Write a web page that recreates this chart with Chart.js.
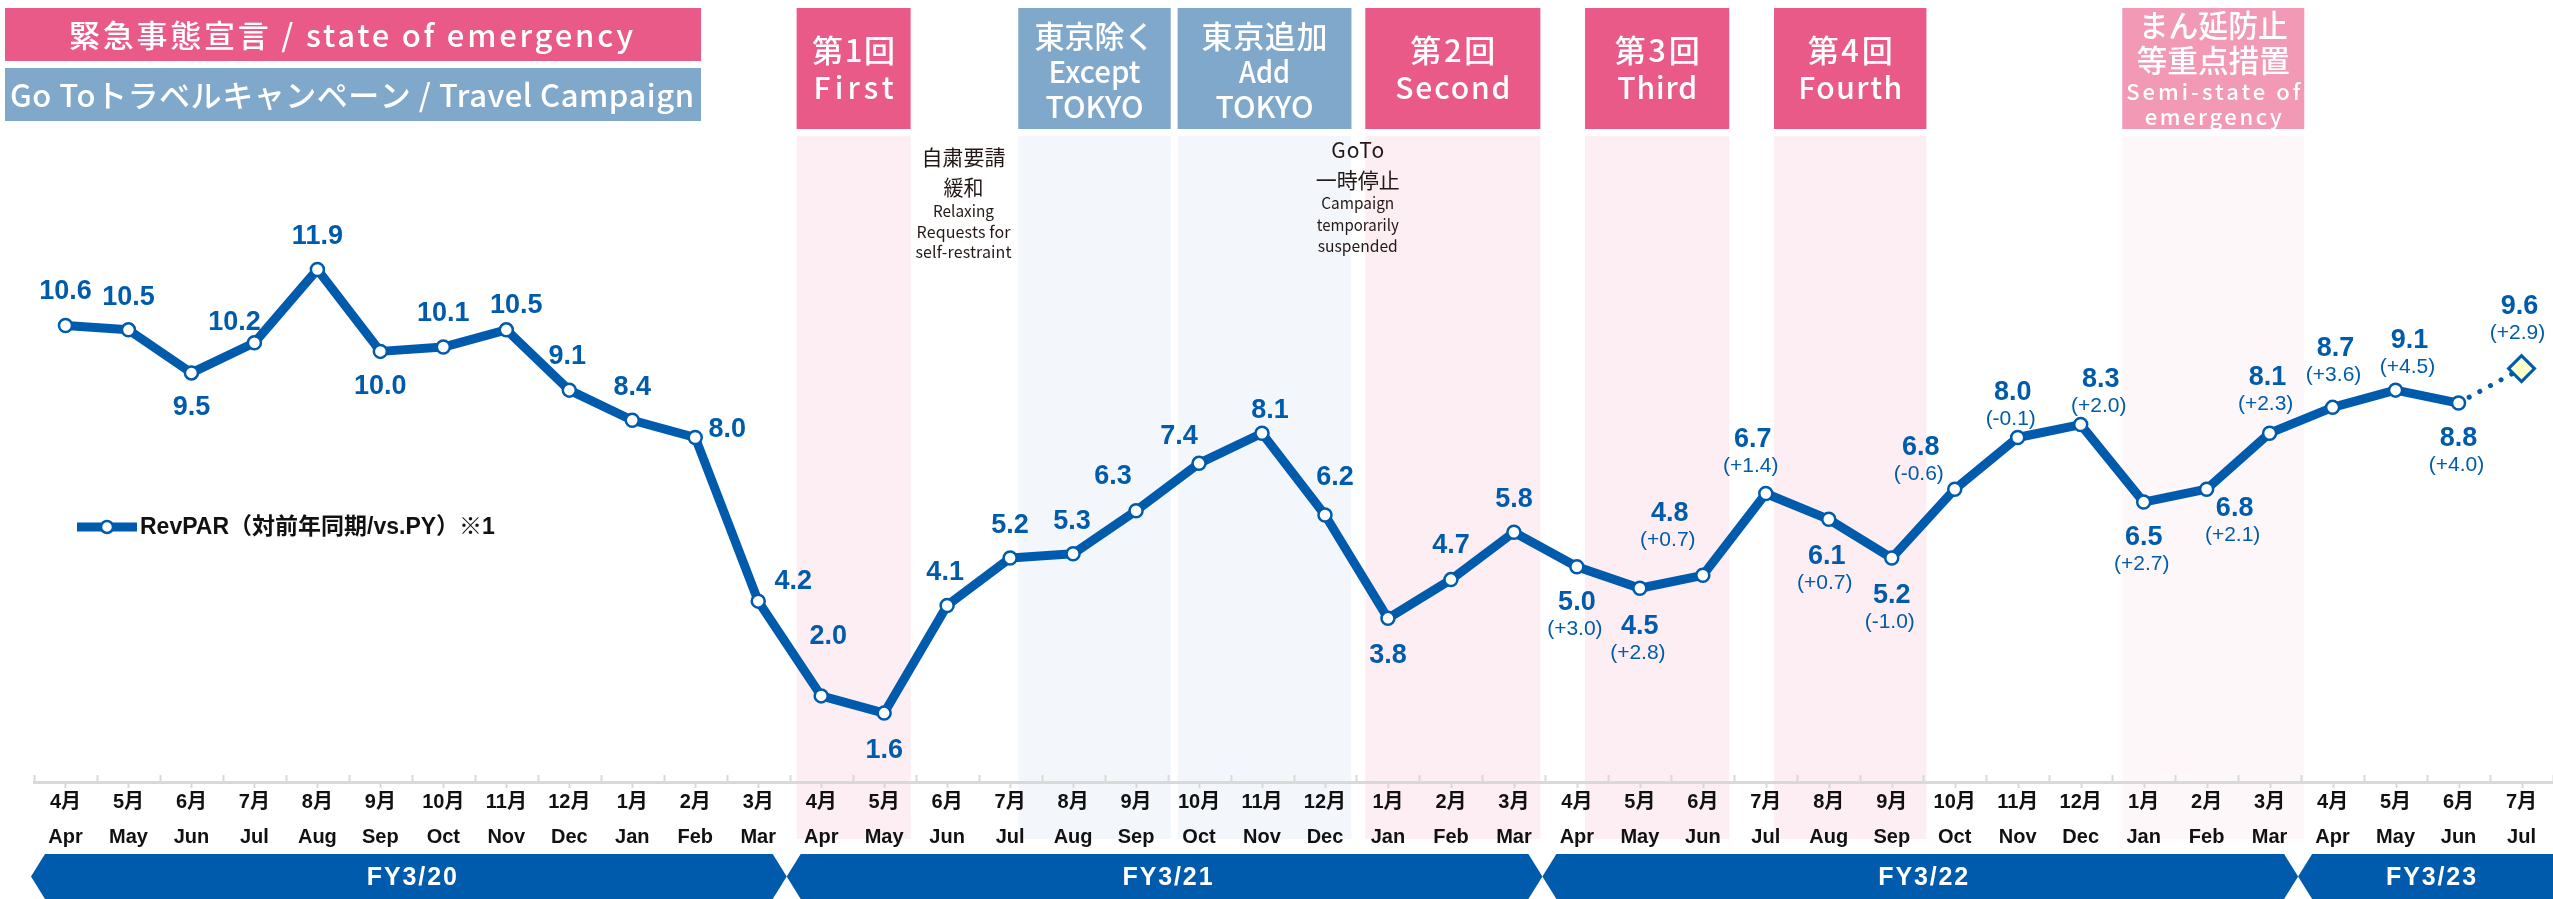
<!DOCTYPE html>
<html>
<head>
<meta charset="utf-8">
<script src="https://cdn.jsdelivr.net/npm/chart.js@4.4.1/dist/chart.umd.min.js"></script>
<style>
html, body { margin: 0; padding: 0; background: #fff; overflow: hidden; }
canvas { display: block; }
</style>
</head>
<body>
<canvas id="myChart" width="2553" height="899"></canvas>
<script>
// month labels (Apr 2019 - Jul 2022)
const monthJa = ['4月','5月','6月','7月','8月','9月','10月','11月','12月','1月','2月','3月',
                 '4月','5月','6月','7月','8月','9月','10月','11月','12月','1月','2月','3月',
                 '4月','5月','6月','7月','8月','9月','10月','11月','12月','1月','2月','3月',
                 '4月','5月','6月','7月'];
const monthEn = ['Apr','May','Jun','Jul','Aug','Sep','Oct','Nov','Dec','Jan','Feb','Mar',
                 'Apr','May','Jun','Jul','Aug','Sep','Oct','Nov','Dec','Jan','Feb','Mar',
                 'Apr','May','Jun','Jul','Aug','Sep','Oct','Nov','Dec','Jan','Feb','Mar',
                 'Apr','May','Jun','Jul'];

// RevPAR values
const revpar = [10.6, 10.5, 9.5, 10.2, 11.9, 10.0, 10.1, 10.5, 9.1, 8.4, 8.0, 4.2,
                2.0, 1.6, 4.1, 5.2, 5.3, 6.3, 7.4, 8.1, 6.2, 3.8, 4.7, 5.8,
                5.0, 4.5, 4.8, 6.7, 6.1, 5.2, 6.8, 8.0, 8.3, 6.5, 6.8, 8.1,
                8.7, 9.1, 8.8, 9.6];
// difference vs previous year
const vsPY = [null, null, null, null, null, null, null, null, null, null, null, null,
              null, null, null, null, null, null, null, null, null, null, null, null,
              3.0, 2.8, 0.7, 1.4, 0.7, -1.0, -0.6, -0.1, 2.0, 2.7, 2.1, 2.3,
              3.6, 4.5, 4.0, 2.9];

// fiscal years (category index ranges)
const fyNames = ['FY3/20', 'FY3/21', 'FY3/22', 'FY3/23'];
const fyStart = [0, 12, 24, 36];
const fyEnd = [12, 24, 36, 40];

// emergency / campaign periods (category index units)
const periodStart = [11.61, 15.13, 17.66, 20.64, 24.13, 27.13, 32.66];
const periodEnd   = [13.42, 17.55, 20.42, 23.42, 26.42, 29.55, 35.55];
const periodKind  = ['em', 'goto', 'goto', 'em', 'em', 'em', 'semi'];
const periodText  = [['第1回', 'First'], ['東京除く', 'Except', 'TOKYO'], ['東京追加', 'Add', 'TOKYO'],
                     ['第2回', 'Second'], ['第3回', 'Third'], ['第4回', 'Fourth'],
                     ['まん延防止', '等重点措置', 'Semi-state of', 'emergency']];

const BLUE = '#005BAC';
const FONT = '"Liberation Sans", Arial, "Noto Sans CJK JP", sans-serif';
const JFONT = '"Noto Sans CJK JP", "Noto Sans", sans-serif';
const kindBox = { em: '#E95A88', goto: '#7FA8CB', semi: '#F299B6' };
const kindBg = { em: '#FCEEF3', goto: '#F3F7FC', semi: '#FEF7FA' };

// label placement for each point [dx, dy]
const labelOffset = [
  [0,-34],[0,-32],[0,35],[-20,-20],[0,-33],[0,35],[0,-34],[10,-24],[-2,-34],[0,-33],[32,-8],[35,-20],
  [7,-59],[0,37],[-2,-33],[0,-33],[-1,-32],[-23,-34],[-20,-27],[8,-23],[10,-37],[0,37],[0,-34],[0,-33],
  [0,36],[0,38],[-33,-62],[-13,-54],[-2,37],[0,37],[-34,-42],[-5,-45],[20,-45],[0,35],[28,19],[-2,-56],
  [3,-59],[14,-50],[0,35],[-2,-62]
];

function fitText(ctx, text, cx, cy, w, font, color) {
  ctx.save();
  ctx.font = font;
  ctx.fillStyle = color;
  ctx.textBaseline = 'middle';
  ctx.textAlign = 'left';
  if ('letterSpacing' in ctx) ctx.letterSpacing = '0px';
  const m = ctx.measureText(text).width;
  const n = Array.from(text).length;
  if (m >= w || n < 2) {
    ctx.translate(cx - Math.min(m, w) / 2, cy);
    if (m > w) ctx.scale(w / m, 1);
    ctx.fillText(text, 0, 0);
  } else if ('letterSpacing' in ctx) {
    ctx.letterSpacing = ((w - m) / (n - 1)) + 'px';
    ctx.fillText(text, cx - w / 2, cy);
  } else {
    ctx.fillText(text, cx - m / 2, cy);
  }
  ctx.restore();
}

const boxLines = {
  2: { y: [50, 88], size: [31, 30] },
  3: { y: [36, 72, 107], size: [31, 30, 30] },
  4: { y: [25, 60, 92, 117], size: [31, 31, 22, 22] }
};
const boxWidths = [[83, 80], [120, 92, 98], [126, 51, 98], [85, 115], [85, 80], [85, 104], [149, 153, 174, 137]];

const notes = [
  { v: 14.26, lines: ['自粛要請', '緩和', 'Relaxing', 'Requests for', 'self-restraint'],
    y: [157, 187, 211, 232, 252], w: [84, 40, 61, 94, 96], size: [21, 21, 16, 16, 16] },
  { v: 20.52, lines: ['GoTo', '一時停止', 'Campaign', 'temporarily', 'suspended'],
    y: [150, 180, 203, 225, 246], w: [53, 84, 73, 82, 80], size: [21, 21, 16, 16, 16] }
];

const decor = {
  id: 'decor',
  beforeDraw(chart) {
    const ctx = chart.ctx;
    const xs = chart.scales.x;
    ctx.save();
    ctx.fillStyle = '#fff';
    ctx.fillRect(0, 0, chart.width, chart.height);

    // period bands and header boxes
    periodStart.forEach((s, i) => {
      const x0 = xs.getPixelForValue(s), x1 = xs.getPixelForValue(periodEnd[i]);
      const k = periodKind[i];
      ctx.fillStyle = kindBg[k];
      ctx.fillRect(x0, 136, x1 - x0, 839 - 136);
      ctx.fillStyle = kindBox[k];
      ctx.fillRect(x0, 8, x1 - x0, 121);
      const lines = periodText[i];
      const spec = boxLines[lines.length];
      lines.forEach((t, j) => {
        fitText(ctx, t, (x0 + x1) / 2, spec.y[j], boxWidths[i][j], '500 ' + spec.size[j] + 'px ' + JFONT, '#fff');
      });
    });

    // top-left banners
    ctx.fillStyle = kindBox.em;
    ctx.fillRect(5, 8, 696, 53);
    ctx.fillStyle = kindBox.goto;
    ctx.fillRect(5, 68, 696, 53);
    fitText(ctx, '緊急事態宣言 / state of emergency', 351, 35, 564, '500 31px ' + JFONT, '#fff');
    fitText(ctx, 'Go Toトラベルキャンペーン / Travel Campaign', 352, 95, 684, '500 31px ' + JFONT, '#fff');

    // notes
    notes.forEach(n => {
      const cx = xs.getPixelForValue(n.v);
      n.lines.forEach((t, j) => {
        fitText(ctx, t, cx, n.y[j], n.w[j], '400 ' + n.size[j] + 'px ' + JFONT, '#231815');
      });
    });

    // fiscal year bands
    fyNames.forEach((name, i) => {
      const x0 = xs.getPixelForValue(fyStart[i] - 0.5);
      const last = i === fyNames.length - 1;
      const x1 = last ? chart.width + 20 : xs.getPixelForValue(fyEnd[i] - 0.5);
      const top = 854, bot = 899, mid = 876.5;
      ctx.fillStyle = BLUE;
      ctx.beginPath();
      ctx.moveTo(x0 - 3, mid);
      ctx.lineTo(x0 + 11, top);
      ctx.lineTo(x1 - 17, top);
      ctx.lineTo(x1 - 3, mid);
      ctx.lineTo(x1 - 17, bot);
      ctx.lineTo(x0 + 11, bot);
      ctx.closePath();
      ctx.fill();
      const cx = last ? (x0 + chart.width) / 2 + 4 : (x0 + x1) / 2;
      fitText(ctx, name, cx, 878, 90, 'bold 25px ' + FONT, '#fff');
    });
    ctx.restore();
  },
  beforeDatasetsDraw(chart) {
    const ctx = chart.ctx;
    const xs = chart.scales.x;
    const yb = chart.chartArea.bottom;
    ctx.save();
    ctx.strokeStyle = '#D9D9D9';
    ctx.lineWidth = 2;
    for (let k = 0; k <= monthEn.length; k++) {
      const xe = Math.round(xs.getPixelForValue(k - 0.5)) + 0.5;
      ctx.beginPath(); ctx.moveTo(xe, yb - 7); ctx.lineTo(xe, yb); ctx.stroke();
      if (k < monthEn.length) {
        const xc = Math.round(xs.getPixelForValue(k)) + 0.5;
        ctx.beginPath(); ctx.moveTo(xc, yb); ctx.lineTo(xc, yb + 6); ctx.stroke();
      }
    }
    ctx.restore();
  },
  afterDatasetsDraw(chart) {
    const ctx = chart.ctx;
    const meta = chart.getDatasetMeta(0);
    ctx.save();
    ctx.fillStyle = BLUE;
    ctx.textAlign = 'center';
    ctx.textBaseline = 'middle';
    meta.data.forEach((pt, i) => {
      const x = pt.x + labelOffset[i][0], y = pt.y + labelOffset[i][1];
      ctx.font = 'bold 27px ' + FONT;
      ctx.fillText(revpar[i].toFixed(1), x, y);
      if (vsPY[i] !== null) {
        ctx.font = '21px ' + FONT;
        const d = vsPY[i];
        ctx.fillText('(' + (d >= 0 ? '+' : '') + d.toFixed(1) + ')', x - 2, y + 27);
      }
    });

    // legend
    ctx.strokeStyle = BLUE;
    ctx.lineWidth = 9;
    ctx.beginPath(); ctx.moveTo(77, 527); ctx.lineTo(137, 527); ctx.stroke();
    ctx.fillStyle = '#fff';
    ctx.lineWidth = 2.5;
    ctx.beginPath(); ctx.arc(107, 527, 6, 0, Math.PI * 2); ctx.fill(); ctx.stroke();
    ctx.fillStyle = '#111';
    ctx.textAlign = 'left';
    ctx.font = 'bold 23px ' + FONT;
    ctx.fillText('RevPAR（対前年同期/vs.PY）※1', 140, 528);
    ctx.restore();
  }
};

const lastIdx = revpar.length - 1;
const ctx = document.getElementById('myChart').getContext('2d');
const myChart = new Chart(ctx, {
  type: 'line',
  data: {
    labels: monthJa.map((m, i) => [m, monthEn[i]]),
    datasets: [{
      label: 'RevPAR（対前年同期/vs.PY）※1',
      data: revpar,
      borderColor: BLUE,
      borderWidth: 9,
      borderJoinStyle: 'round',
      borderCapStyle: 'round',
      tension: 0,
      pointStyle: revpar.map((v, i) => i === lastIdx ? 'rectRot' : 'circle'),
      pointRadius: revpar.map((v, i) => i === lastIdx ? 13 : 6.5),
      pointBackgroundColor: revpar.map((v, i) => i === lastIdx ? '#FFFFC8' : '#fff'),
      pointBorderColor: BLUE,
      pointBorderWidth: revpar.map((v, i) => i === lastIdx ? 3 : 2.5),
      segment: {
        borderDash: c => c.p1DataIndex === lastIdx ? [0.1, 12] : undefined,
        borderWidth: c => c.p1DataIndex === lastIdx ? 5 : undefined
      },
      clip: false
    }]
  },
  options: {
    responsive: false,
    animation: false,
    devicePixelRatio: 1,
    layout: { autoPadding: false, padding: { top: 93, left: 34, right: 0, bottom: 41 } },
    plugins: { legend: { display: false }, tooltip: { enabled: false } },
    scales: {
      x: {
        offset: true,
        grid: { display: false, drawTicks: false },
        border: { display: true, color: '#D9D9D9', width: 3 },
        ticks: {
          autoSkip: false,
          maxRotation: 0,
          padding: 3,
          color: '#111',
          font: { family: FONT, size: 20, weight: 'bold', lineHeight: 1.75 }
        }
      },
      y: {
        display: false,
        min: 0,
        max: 16
      }
    }
  },
  plugins: [decor]
});
</script>
</body>
</html>
